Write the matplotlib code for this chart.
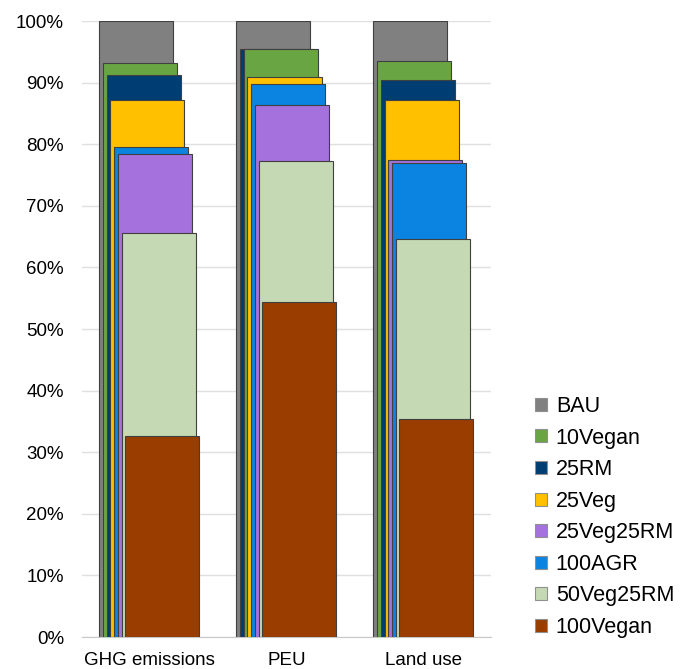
import numpy as np
import matplotlib
matplotlib.use('Agg')
import matplotlib.pyplot as plt
from matplotlib.patches import Patch

categories = ['GHG emissions', 'PEU', 'Land use']
series = ['BAU', '10Vegan', '25RM', '25Veg', '25Veg25RM', '100AGR', '50Veg25RM', '100Vegan']
colors = ['#808080', '#6aa544', '#003d73', '#ffc000', '#a571dd', '#0a84e0', '#c5d9b4', '#993d00']

# percent of BAU
bau = [100, 100, 100]
vegan10 = [93.2, 95.4, 93.5]
rm25 = [91.2, 95.5, 90.4]
veg25 = [87.2, 90.9, 87.1]
veg25rm25 = [78.4, 86.3, 77.4]
agr100 = [79.6, 89.7, 77.0]
veg50rm25 = [65.6, 77.2, 64.6]
vegan100 = [32.7, 54.4, 35.4]

values = np.array([bau, vegan10, rm25, veg25, veg25rm25, agr100, veg50rm25, vegan100])

plt.rcParams['font.family'] = ['Liberation Sans', 'DejaVu Sans']

fig = plt.figure(figsize=(6.9, 6.69), dpi=100)
ax = fig.add_axes([0.119, 0.0478, 0.592, 0.9208])

width = 0.54
step = 0.027
n = len(series)
for j in range(len(categories)):
    # bars in each group sit behind each other, sorted by value
    order = np.argsort(-values[:, j], kind='stable')
    for rank, i in enumerate(order):
        left = j - (width + (n - 1) * step) / 2 + rank * step
        ax.bar(left, values[i, j], width=width, align='edge', color=colors[i],
               edgecolor='#404040', linewidth=0.8, zorder=2 + rank)

ax.set_xlim(-0.49, 2.49)
ax.set_ylim(0, 100)
ax.set_yticks(np.arange(0, 101, 10))
ax.set_yticklabels(['%d%%' % v for v in range(0, 101, 10)], fontsize=13.5)
ax.set_xticks(range(len(categories)))
ax.set_xticklabels(categories, fontsize=13.5)
ax.tick_params(axis='y', length=0, pad=13)
ax.tick_params(axis='x', length=0, pad=11)
ax.grid(axis='y', color='#e0e0e0', linewidth=1, zorder=0)
ax.set_axisbelow(True)
for s in ['top', 'right', 'left']:
    ax.spines[s].set_visible(False)
ax.spines['bottom'].set_color('#c8c8c8')

handles = [Patch(facecolor=c, edgecolor='#909090', linewidth=0.8) for c in colors]
fig.legend(handles, series, loc='lower left', bbox_to_anchor=(0.754, 0.024),
           frameon=False, fontsize=15.5, handlelength=0.55, handleheight=0.55,
           handletextpad=0.4, labelspacing=0.49, borderpad=0.2)

fig.savefig('out.png', dpi=100)
